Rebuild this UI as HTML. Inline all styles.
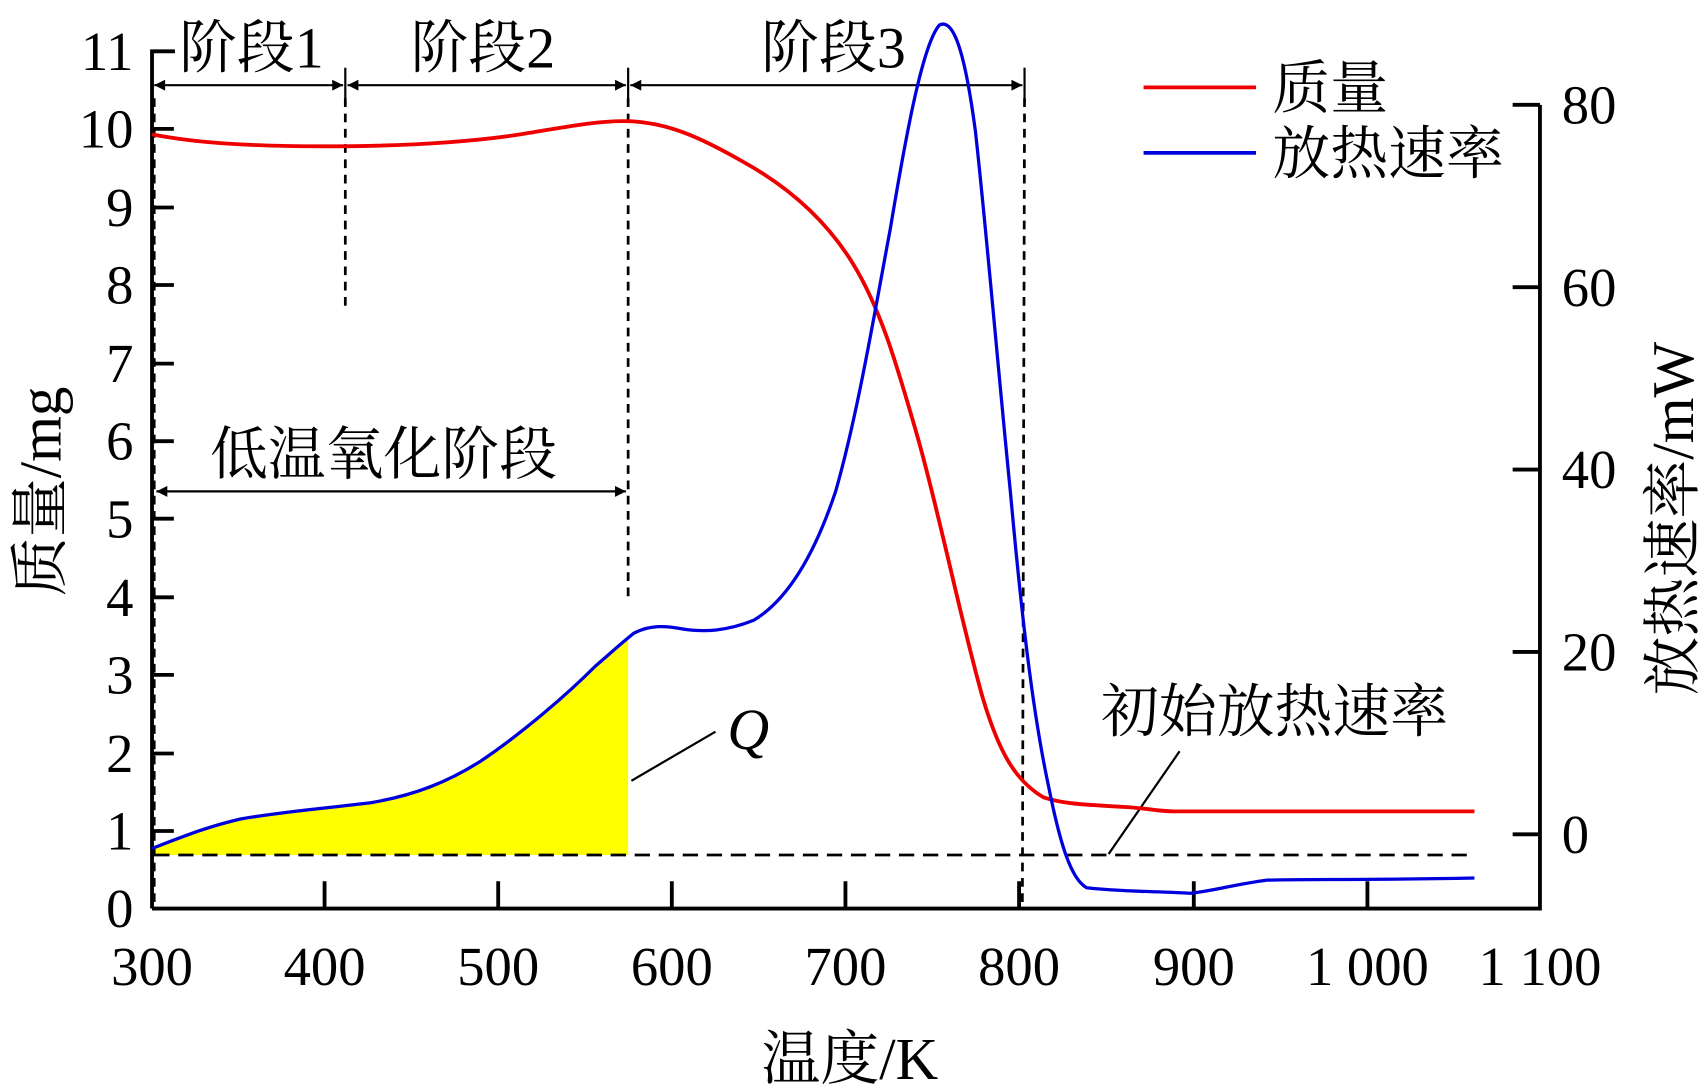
<!DOCTYPE html>
<html><head><meta charset="utf-8"><style>html,body{margin:0;padding:0;background:#fff}svg{display:block}</style></head>
<body>
<svg width="1704" height="1092" viewBox="0 0 1560 1000" xmlns="http://www.w3.org/2000/svg" font-family="'Liberation Serif','Noto Serif CJK SC',serif">
<defs>
<marker id="ar" viewBox="0 0 10 10" refX="10" refY="5" markerWidth="14" markerHeight="10" markerUnits="userSpaceOnUse" orient="auto-start-reverse"><path d="M0,0L10,5L0,10z" fill="#000"/></marker>
</defs>
<path d="M139,777 C170,765 190,757 220,750 C260,743 300,740 340,735 C380,728 410,716 440,697 C480,670 520,635 545,610 C560,597 570,588 575,585 L575,783 L139,783 Z" fill="#ffff00"/>
<g stroke="#000" stroke-width="3.5" fill="none">
<path d="M139,832 L139,47 L160,47"/>
<path d="M139,832 L1410,832 L1410,96"/>
</g>
<g stroke="#000" stroke-width="3.5">
<line x1="139" y1="761" x2="159" y2="761"/><line x1="139" y1="690" x2="159" y2="690"/><line x1="139" y1="618" x2="159" y2="618"/><line x1="139" y1="547" x2="159" y2="547"/><line x1="139" y1="475" x2="159" y2="475"/><line x1="139" y1="404" x2="159" y2="404"/><line x1="139" y1="333" x2="159" y2="333"/><line x1="139" y1="261" x2="159" y2="261"/><line x1="139" y1="190" x2="159" y2="190"/><line x1="139" y1="118" x2="159" y2="118"/>
<line x1="297" y1="832" x2="297" y2="807"/><line x1="456" y1="832" x2="456" y2="807"/><line x1="615" y1="832" x2="615" y2="807"/><line x1="774" y1="832" x2="774" y2="807"/><line x1="933" y1="832" x2="933" y2="807"/><line x1="1093" y1="832" x2="1093" y2="807"/><line x1="1252" y1="832" x2="1252" y2="807"/>
<line x1="1385" y1="764" x2="1410" y2="764"/><line x1="1385" y1="597" x2="1410" y2="597"/><line x1="1385" y1="430" x2="1410" y2="430"/><line x1="1385" y1="263" x2="1410" y2="263"/><line x1="1385" y1="96" x2="1410" y2="96"/>
</g>
<g stroke="#000" stroke-width="2.5" stroke-dasharray="8,6" fill="none">
<line x1="141" y1="90" x2="141" y2="830"/>
<line x1="316" y1="90" x2="316" y2="280"/>
<line x1="575" y1="90" x2="575" y2="550"/>
<line x1="938" y1="90" x2="936" y2="832"/>
<line x1="141" y1="783" x2="1350" y2="783" stroke-dasharray="14,8"/>
</g>
<g stroke="#000" stroke-width="2">
<line x1="141" y1="78" x2="314" y2="78" marker-start="url(#ar)" marker-end="url(#ar)"/>
<line x1="318" y1="78" x2="573" y2="78" marker-start="url(#ar)" marker-end="url(#ar)"/>
<line x1="577" y1="78" x2="936" y2="78" marker-start="url(#ar)" marker-end="url(#ar)"/>
<line x1="316" y1="62" x2="316" y2="95"/><line x1="575" y1="62" x2="575" y2="95"/><line x1="938" y1="62" x2="938" y2="95"/>
<line x1="143" y1="450" x2="573" y2="450" marker-start="url(#ar)" marker-end="url(#ar)"/>
<line x1="578" y1="715" x2="655" y2="670"/>
<line x1="1015" y1="782" x2="1080" y2="688"/>
</g>
<path d="M139,123 C180,131 230,134 297,134 C360,134 420,131 470,124 C520,116 550,110 575,111 C610,112 640,125 680,148 C720,170 755,200 780,240 C805,280 820,330 840,400 C860,470 880,570 900,640 C915,690 930,715 955,730 C975,737 1000,737 1030,739 C1050,740 1060,743 1075,743 L1350,743" fill="none" stroke="#ee0000" stroke-width="3.5"/>
<path d="M139,777 C170,765 190,757 220,750 C260,743 300,740 340,735 C380,728 410,716 440,697 C480,670 520,635 545,610 C560,597 570,588 580,580 C595,572 610,573 625,576 C645,579 665,578 690,568 C720,550 745,510 765,450 C785,380 800,290 815,210 C830,120 845,40 860,23 C875,15 885,60 893,120 C903,210 913,330 925,450 C935,560 945,650 960,720 C970,770 980,805 995,813 C1030,817 1060,816 1090,818 C1110,816 1130,810 1160,806 C1200,805 1250,806 1350,804" fill="none" stroke="#0000dd" stroke-width="3"/>
<line x1="1047" y1="80" x2="1150" y2="80" stroke="#ee0000" stroke-width="3.5"/>
<line x1="1047" y1="140" x2="1150" y2="140" stroke="#0000dd" stroke-width="3.5"/>
<g font-size="53" fill="#000">
<text x="1165" y="99">质量</text>
<text x="1165" y="159">放热速率</text>
<text x="230" y="62" text-anchor="middle">阶段1</text>
<text x="442" y="62" text-anchor="middle">阶段2</text>
<text x="763" y="62" text-anchor="middle">阶段3</text>
<text x="351" y="434" text-anchor="middle">低温氧化阶段</text>
<text x="1008" y="670">初始放热速率</text>
<text x="685" y="686" font-style="italic" text-anchor="middle">Q</text>
</g>
<g font-size="50" fill="#000" text-anchor="end">
<text x="122" y="849">0</text><text x="122" y="778">1</text><text x="122" y="707">2</text><text x="122" y="635">3</text><text x="122" y="564">4</text><text x="122" y="492">5</text><text x="122" y="421">6</text><text x="122" y="350">7</text><text x="122" y="278">8</text><text x="122" y="207">9</text><text x="122" y="135">10</text><text x="122" y="64">11</text>
</g>
<g font-size="50" fill="#000">
<text x="1430" y="781">0</text><text x="1430" y="614">20</text><text x="1430" y="447">40</text><text x="1430" y="280">60</text><text x="1430" y="113">80</text>
</g>
<g font-size="50" fill="#000" text-anchor="middle">
<text x="139" y="902">300</text><text x="297" y="902">400</text><text x="456" y="902">500</text><text x="615" y="902">600</text><text x="774" y="902">700</text><text x="933" y="902">800</text><text x="1093" y="902">900</text><text x="1252" y="902">1 000</text><text x="1410" y="902">1 100</text>
</g>
<g font-size="54" fill="#000" text-anchor="middle">
<text x="778" y="988">温度/K</text>
<text transform="translate(55,450) rotate(-90)">质量/mg</text>
<text transform="translate(1550,475) rotate(-90)">放热速率/mW</text>
</g>
</svg>
</body></html>
